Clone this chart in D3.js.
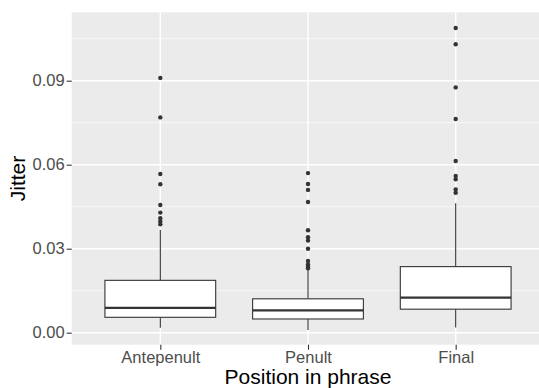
<!DOCTYPE html>
<html>
<head>
<meta charset="utf-8">
<script src="https://cdn.jsdelivr.net/npm/d3@7"></script>
<style>
  body { margin: 0; background: #fff; }
  svg { display: block; font-family: "Liberation Sans", Arial, sans-serif; }
</style>
</head>
<body>
<svg id="chart" width="539" height="388"></svg>
<script>
// box stats
const categories = ['Antepenult', 'Penult', 'Final'];
const whiskerLow = [0.0018, 0.0010, 0.0019];
const q1 = [0.0055, 0.0049, 0.0084];
const median = [0.0089, 0.0080, 0.0125];
const q3 = [0.0187, 0.0121, 0.0236];
const whiskerHigh = [0.0367, 0.0224, 0.0462];

const outliersAntepenult = [0.0910, 0.0769, 0.0567, 0.0530, 0.0456, 0.0429, 0.0409, 0.0397, 0.0387];
const outliersPenult = [0.0570, 0.0531, 0.0510, 0.0467, 0.0366, 0.0341, 0.0329, 0.0300, 0.0256, 0.0244, 0.0236, 0.0230];
const outliersFinal = [0.1088, 0.1030, 0.0876, 0.0763, 0.0613, 0.0560, 0.0548, 0.0512, 0.0500];
const outliers = [outliersAntepenult, outliersPenult, outliersFinal];

const yTicks = [0, 0.03, 0.06, 0.09];
const yMinor = [0.015, 0.045, 0.075, 0.105];

const svg = d3.select('#chart');
const panel = { left: 71.7, right: 544.3, top: 12.3, bottom: 344.7 };

const x = d3.scalePoint()
    .domain(categories)
    .range([panel.left, panel.right])
    .padding(0.6);

const y = d3.scaleLinear()
    .domain([-0.004286, 0.11443])
    .range([panel.bottom, panel.top]);

const boxW = x.step() * 0.75;

// panel background
svg.append('rect')
    .attr('x', panel.left)
    .attr('y', panel.top)
    .attr('width', panel.right - panel.left)
    .attr('height', panel.bottom - panel.top)
    .attr('fill', '#EBEBEB');

// grid
const grid = svg.append('g');
grid.selectAll('.minor')
    .data(yMinor)
    .enter().append('line')
    .attr('x1', panel.left).attr('x2', panel.right)
    .attr('y1', d => y(d)).attr('y2', d => y(d))
    .attr('stroke', '#fff').attr('stroke-width', 0.7);
grid.selectAll('.major')
    .data(yTicks)
    .enter().append('line')
    .attr('x1', panel.left).attr('x2', panel.right)
    .attr('y1', d => y(d)).attr('y2', d => y(d))
    .attr('stroke', '#fff').attr('stroke-width', 1.4);
grid.selectAll('.vmajor')
    .data(categories)
    .enter().append('line')
    .attr('x1', d => x(d)).attr('x2', d => x(d))
    .attr('y1', panel.top).attr('y2', panel.bottom)
    .attr('stroke', '#fff').attr('stroke-width', 1.4);

// boxes
const boxes = svg.append('g')
    .selectAll('g')
    .data(categories)
    .enter().append('g');

boxes.append('line')
    .attr('x1', d => x(d)).attr('x2', d => x(d))
    .attr('y1', (d, i) => y(whiskerHigh[i]))
    .attr('y2', (d, i) => y(q3[i]))
    .attr('stroke', '#333').attr('stroke-width', 1.1);

boxes.append('line')
    .attr('x1', d => x(d)).attr('x2', d => x(d))
    .attr('y1', (d, i) => y(q1[i]))
    .attr('y2', (d, i) => y(whiskerLow[i]))
    .attr('stroke', '#333').attr('stroke-width', 1.1);

boxes.append('rect')
    .attr('x', d => x(d) - boxW / 2)
    .attr('width', boxW)
    .attr('y', (d, i) => y(q3[i]))
    .attr('height', (d, i) => y(q1[i]) - y(q3[i]))
    .attr('fill', '#fff')
    .attr('stroke', '#333').attr('stroke-width', 1.1);

boxes.append('line')
    .attr('x1', d => x(d) - boxW / 2).attr('x2', d => x(d) + boxW / 2)
    .attr('y1', (d, i) => y(median[i])).attr('y2', (d, i) => y(median[i]))
    .attr('stroke', '#333').attr('stroke-width', 2.2);

boxes.each(function(d, i) {
    d3.select(this).selectAll('circle')
        .data(outliers[i])
        .enter().append('circle')
        .attr('cx', x(d))
        .attr('cy', v => y(v))
        .attr('r', 2.2)
        .attr('fill', '#333');
});

// axes
const yAxis = svg.append('g')
    .attr('transform', `translate(${panel.left},0)`)
    .call(d3.axisLeft(y).tickValues(yTicks).tickFormat(d3.format('.2f')).tickSize(5).tickPadding(2));
const xAxis = svg.append('g')
    .attr('transform', `translate(0,${panel.bottom})`)
    .call(d3.axisBottom(x).tickSize(5).tickPadding(1.5));

[yAxis, xAxis].forEach(ax => {
    ax.select('.domain').remove();
    ax.selectAll('.tick line').attr('stroke', '#333').attr('stroke-width', 1.1);
    ax.selectAll('.tick text')
        .attr('fill', '#4D4D4D')
        .style('font-size', '16.5px');
});

// titles
svg.append('text')
    .attr('x', (panel.left + panel.right) / 2)
    .attr('y', 384)
    .attr('text-anchor', 'middle')
    .attr('fill', '#000')
    .style('font-size', '21px')
    .text('Position in phrase');

svg.append('text')
    .attr('transform', `translate(25,${(panel.top + panel.bottom) / 2}) rotate(-90)`)
    .attr('text-anchor', 'middle')
    .attr('fill', '#000')
    .style('font-size', '21px')
    .text('Jitter');
</script>
</body>
</html>
